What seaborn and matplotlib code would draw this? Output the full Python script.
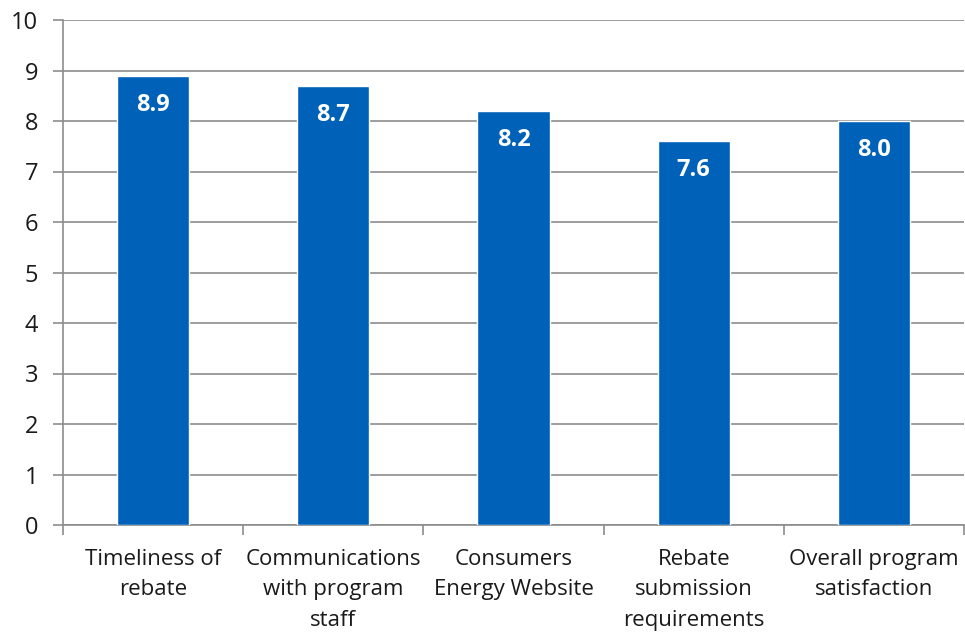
import matplotlib
matplotlib.use("Agg")
import matplotlib.pyplot as plt
import seaborn as sns
import pandas as pd
import numpy as np

categories = ["Timeliness of\nrebate", "Communications\nwith program\nstaff",
              "Consumers\nEnergy Website", "Rebate\nsubmission\nrequirements",
              "Overall program\nsatisfaction"]
values = [8.9, 8.7, 8.2, 7.6, 8.0]
yticks = [0, 1, 2, 3, 4, 5, 6, 7, 8, 9, 10]

sns.set_theme(style="white")
plt.rcParams['font.family'] = ['Open Sans', 'DejaVu Sans']

df = pd.DataFrame({"cat": categories, "val": values})

fig = plt.figure(figsize=(9.65, 6.32), dpi=100)
ax = fig.add_axes([63/965, 1-525/632, 1-63/965-1/965, (525-20)/632])
sns.barplot(data=df, x="cat", y="val", color="#0061B9", saturation=1, width=0.4, ax=ax, zorder=3)

ax.set_ylim(0, 10)
ax.set_xlim(-0.5, len(categories)-0.5)
ax.set_yticks(yticks)
ax.set_yticklabels([str(t) for t in yticks], fontsize=17, color="#1a1a1a")
ax.yaxis.grid(True, color="#8c8c8c", linewidth=1.2)
ax.set_axisbelow(True)
ax.set_xlabel("")
ax.set_ylabel("")

ax.tick_params(axis="x", which="major", length=0, pad=17, labelsize=16, labelcolor="#1a1a1a")
for lbl in ax.get_xticklabels():
    lbl.set_linespacing(1.6)
ax.set_xticks(np.arange(-0.5, len(categories)), minor=True)
ax.tick_params(axis="x", which="minor", length=7, width=1.2, color="#8c8c8c", direction="out", bottom=True)
ax.tick_params(axis="y", length=7, width=1.2, color="#8c8c8c", direction="out", left=True, pad=11)

for s in ["top", "right"]:
    ax.spines[s].set_visible(False)
for s in ["left", "bottom"]:
    ax.spines[s].set_color("#8c8c8c")
    ax.spines[s].set_linewidth(1.2)

for p, v in zip(ax.patches, values):
    ax.annotate(f"{v:.1f}", (p.get_x() + p.get_width()/2, p.get_height()),
                xytext=(0, -21), textcoords="offset points", ha="center", va="center",
                color="white", fontweight="bold", fontsize=17)

fig.savefig("out.png", dpi=100)
